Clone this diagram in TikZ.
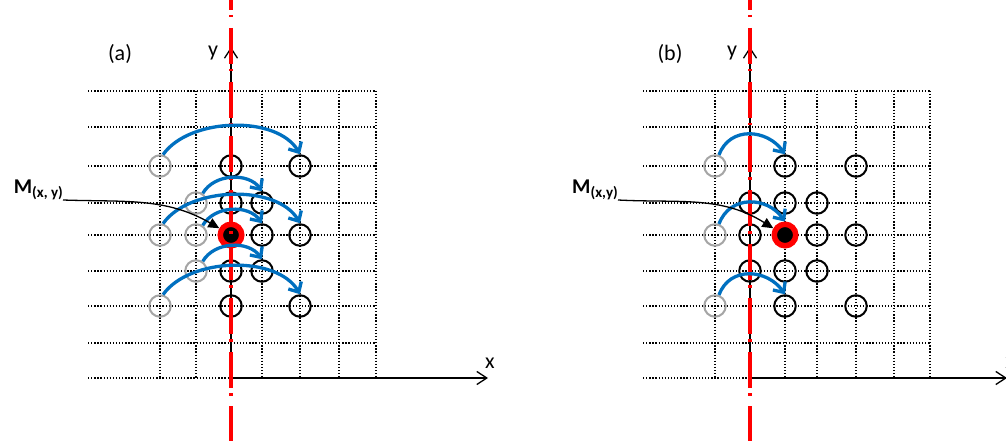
\documentclass[tikz,border=0pt]{standalone}
\usepackage{fontspec}
\setmainfont{Carlito}
\usetikzlibrary{arrows.meta}
\definecolor{shiftblue}{RGB}{0,112,192}
\definecolor{oldgray}{RGB}{165,165,165}
\definecolor{axisred}{RGB}{255,0,0}

\begin{document}
\begin{tikzpicture}[x=1pt,y=1pt,
    gridline/.style={line width=1.3pt,dash pattern=on 1.3pt off 1.8pt},
    axisline/.style={line width=1.3pt,-{Straight Barb[length=10pt,width=13pt]}},
    symaxis/.style={axisred,line width=3.6pt,dash pattern=on 36pt off 5pt on 2.5pt off 10.5pt},
    oldpt/.style={circle,draw=oldgray,line width=2pt,minimum size=21.5pt,inner sep=0pt},
    newpt/.style={circle,draw=black,line width=2pt,minimum size=21.5pt,inner sep=0pt},
    mpt/.style={circle,draw=axisred,fill=black,line width=5.5pt,minimum size=21.5pt,inner sep=0pt},
    remap/.style={shiftblue,line width=3.3pt,-{Straight Barb[length=8pt,width=15pt]}},
    pointer/.style={line width=1.3pt,-{Triangle[length=11pt,width=10pt]}},
    lbl/.style={font=\fontsize{22}{24}\selectfont,inner sep=0pt},
    mlbl/.style={font=\fontsize{21}{23}\selectfont\bfseries,inner sep=0pt}]
\useasboundingbox (0,0) rectangle (1006,-441);

% rows are shared, columns per panel
\foreach \y [count=\j from 0] in {91,127,166,203,235,271,306,343,378}
  \coordinate (row\j) at (0,-\y);
\foreach \x [count=\i from 0] in {160,196,231,262,300,339,376}
  \coordinate (ca\i) at (\x,0);
\foreach \x [count=\i from 0] in {715,750,785,817,856,894,930}
  \coordinate (cb\i) at (\x,0);
\coordinate (gla) at (88,0);
\coordinate (glb) at (643,0);

% dotted grids
\foreach \j in {0,...,8} {
  \draw[gridline] (gla |- row\j) -- (ca6 |- row\j);
  \draw[gridline] (glb |- row\j) -- (cb6 |- row\j);
}
\foreach \i in {0,...,6} {
  \draw[gridline] (ca\i |- row0) -- (ca\i |- row8);
  \draw[gridline] (cb\i |- row0) -- (cb\i |- row8);
}

% axes
\coordinate (oa) at (ca2 |- row8);
\coordinate (ob) at (cb1 |- row8);
\coordinate (yta) at (231,-47);
\coordinate (ytb) at (750,-47);
\coordinate (xta) at (488,-378);
\coordinate (xtb) at (1007,-378);
\draw[axisline] (oa) -- (yta);
\draw[axisline] (oa) -- (xta);
\draw[axisline] (ob) -- (ytb);
\draw[axisline] (ob) -- (xtb);

% panel (a) points
\foreach \c/\r in {0/2,0/4,0/6,1/3,1/4,1/5}
  \node[oldpt] (pa-\c-\r) at (ca\c |- row\r) {};
\foreach \c/\r in {2/2,2/3,2/5,2/6,3/3,3/4,3/5,4/2,4/4,4/6}
  \node[newpt] (pa-\c-\r) at (ca\c |- row\r) {};
\node[mpt] (pa-2-4) at (ca2 |- row4) {};

% panel (b) points
\foreach \c/\r in {0/2,0/4,0/6}
  \node[oldpt] (pb-\c-\r) at (cb\c |- row\r) {};
\foreach \c/\r in {2/2,4/2,1/3,2/3,3/3,1/4,3/4,4/4,1/5,2/5,3/5,2/6,4/6}
  \node[newpt] (pb-\c-\r) at (cb\c |- row\r) {};
\node[mpt] (pb-2-4) at (cb2 |- row4) {};

% symmetry lines
\coordinate (sa1) at (231,26);
\coordinate (sa2) at (231,-441);
\coordinate (sb1) at (750,26);
\coordinate (sb2) at (750,-441);
\draw[symaxis] (sa1) -- (sa2);
\draw[symaxis] (sb1) -- (sb2);

% moves
\foreach \r in {2,4,6}
  \draw[remap] (pa-0-\r.75) to[out=55,in=120,looseness=0.85] (pa-4-\r.north);
\foreach \r in {3,4,5}
  \draw[remap] (pa-1-\r.55) to[out=60,in=125] (pa-3-\r.north);
\foreach \r in {2,4,6}
  \draw[remap] (pb-0-\r.70) to[out=70,in=125,looseness=1.2] (pb-2-\r.north);

% labels
\node[lbl] (tag-a) at (120,-54) {(a)};
\node[lbl] (tag-b) at (670,-54) {(b)};
\node[lbl,anchor=base] (ylab-a) at (213,-57) {y};
\node[lbl,anchor=base] (ylab-b) at (732,-57) {y};
\node[lbl,anchor=base] (xlab-a) at (490,-368) {x};
\node[lbl,anchor=base] (xlab-b) at (1010,-368) {x};
\node[mlbl,anchor=south east] (ma) at (63,-200) {M\raisebox{-4pt}{\fontsize{15}{15}\selectfont(x, y)}};
\node[mlbl,anchor=south east] (mb) at (618,-200) {M\raisebox{-4pt}{\fontsize{15}{15}\selectfont(x,y)}};
\draw[pointer] (ma.south east) to[out=-2,in=150] (pa-2-4.150);
\draw[pointer] (mb.south east) to[out=-3,in=148] (pb-2-4.150);
\end{tikzpicture}
\end{document}
